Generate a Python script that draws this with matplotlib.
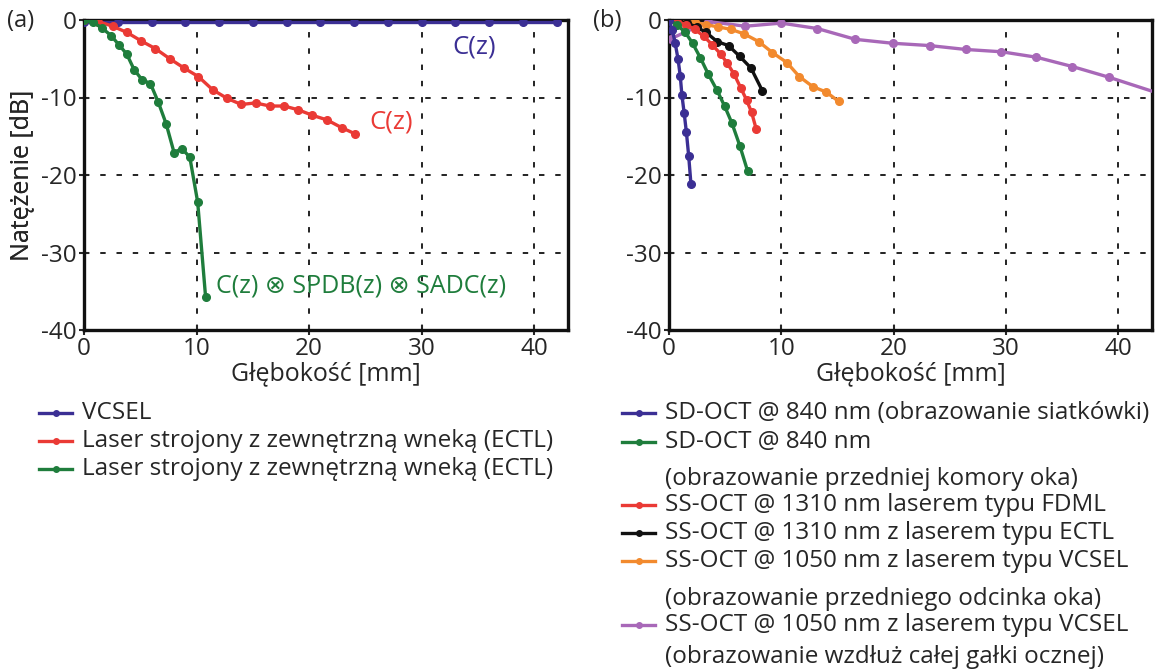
import matplotlib
matplotlib.use("Agg")
import matplotlib.pyplot as plt
from matplotlib.lines import Line2D

plt.rcParams['font.family'] = ['Open Sans', 'DejaVu Sans']

# ---------------- data: panel (a) ----------------
a_vcsel_x = [0, 3, 6, 9, 12, 15, 18, 21, 24, 27, 30, 33, 36, 39, 42]
a_vcsel_y = [-0.3, -0.3, -0.3, -0.3, -0.3, -0.3, -0.3, -0.3, -0.3, -0.3, -0.3, -0.3, -0.3, -0.3, -0.3]

a_ectl_x = [0, 1.27, 2.54, 3.81, 5.08, 6.35, 7.62, 8.89, 10.16, 11.43, 12.7, 13.97,
            15.24, 16.5, 17.8, 19.05, 20.3, 21.6, 22.9, 24.1]
a_ectl_y = [0, -0.2, -0.8, -1.6, -2.7, -3.7, -5.0, -6.2, -7.3, -9.0, -10.1, -10.9,
            -10.7, -11.1, -11.1, -11.6, -12.3, -12.9, -13.9, -14.7]

a_full_x = [0, 0.8, 1.57, 2.4, 3.1, 3.8, 4.45, 5.15, 5.9, 6.6, 7.3, 8.0, 8.7, 9.4, 10.1, 10.8]
a_full_y = [0, -0.3, -1.0, -2.0, -3.2, -4.4, -6.4, -7.7, -8.2, -10.6, -13.4, -17.1,
            -16.6, -17.7, -23.5, -35.7]

a_labels = ["VCSEL",
            "Laser strojony z zewnętrzną wneką (ECTL)",
            "Laser strojony z zewnętrzną wneką (ECTL)"]
a_notes = ["C(z)", "C(z)", "C(z) ⊗ SPDB(z) ⊗ SADC(z)"]

# ---------------- data: panel (b) ----------------
b_sd_ret_x = [0, 0.3, 0.55, 0.8, 1.0, 1.15, 1.35, 1.55, 1.75, 1.95]
b_sd_ret_y = [0, -1.3, -3.0, -5.0, -7.2, -9.7, -12.0, -14.5, -17.5, -21.1]

b_sd_ant_x = [0, 0.7, 1.45, 2.1, 2.8, 3.5, 4.25, 4.95, 5.6, 6.3, 7.0]
b_sd_ant_y = [0, -0.6, -1.6, -3.0, -4.9, -7.0, -9.0, -11.1, -13.3, -16.2, -19.5]

b_fdml_x = [0, 0.75, 1.5, 2.3, 3.1, 3.85, 4.6, 5.2, 5.8, 6.4, 6.9, 7.35, 7.75]
b_fdml_y = [0, -0.2, -0.6, -1.2, -2.1, -3.2, -4.4, -5.6, -7.0, -8.8, -10.3, -11.9, -14.0]

b_ectl_x = [0, 0.8, 1.6, 2.45, 3.3, 4.3, 5.3, 6.3, 7.3, 8.3]
b_ectl_y = [0, -0.1, -0.4, -0.9, -1.6, -2.8, -3.3, -4.7, -6.2, -9.1]

b_vcsel_ant_x = [0, 1.2, 2.3, 3.3, 4.4, 5.5, 6.7, 8.0, 9.2, 10.5, 11.6, 12.8, 14.0, 15.1]
b_vcsel_ant_y = [0, -0.1, -0.3, -0.6, -0.9, -1.2, -1.8, -2.8, -4.2, -5.5, -7.3, -8.6, -9.3, -10.5]

b_vcsel_full_x = [0.2, 3.5, 6.8, 10.0, 13.2, 16.6, 19.9, 23.2, 26.4, 29.6, 32.7, 35.9, 39.2, 45.8]
b_vcsel_full_y = [-2.4, -0.2, -0.8, -0.4, -1.1, -2.5, -3.0, -3.3, -3.8, -4.1, -4.8, -6.0, -7.4, -10.5]

b_labels = ["SD-OCT @ 840 nm (obrazowanie siatkówki)",
            "SD-OCT @ 840 nm",
            "(obrazowanie przedniej komory oka)",
            "SS-OCT @ 1310 nm laserem typu FDML",
            "SS-OCT @ 1310 nm z laserem typu ECTL",
            "SS-OCT @ 1050 nm z laserem typu VCSEL",
            "(obrazowanie przedniego odcinka oka)",
            "SS-OCT @ 1050 nm z laserem typu VCSEL",
            "(obrazowanie wzdłuż całej gałki ocznej)"]

x_ticks = [0, 10, 20, 30, 40]
y_ticks = [0, -10, -20, -30, -40]

# ---------------- colours ----------------
C_BLUE = "#3b2f94"
C_RED = "#ea3a35"
C_GREEN = "#1f7d3c"
C_BLACK = "#111111"
C_ORANGE = "#f28a2e"
C_PURPLE = "#a868b8"
C_TEXT = "#262626"

W, H = 1164, 672
AX_TOP, AX_BOT = 20, 330
fig = plt.figure(figsize=(W / 100, H / 100), dpi=100)


def make_ax(left_px, right_px):
    ax = fig.add_axes([left_px / W, 1 - AX_BOT / H, (right_px - left_px) / W, (AX_BOT - AX_TOP) / H])
    ax.set_xlim(0, 43)
    ax.set_ylim(-40, 0)
    ax.set_xticks(x_ticks)
    ax.set_yticks(y_ticks)
    ax.set_xticklabels([str(t) for t in x_ticks])
    ax.set_yticklabels([str(t) for t in y_ticks])
    ax.tick_params(direction='inout', length=7, width=1.5, labelsize=17.5, pad=1.5,
                   colors=C_TEXT)
    for s in ax.spines.values():
        s.set_linewidth(2.4)
        s.set_color('#111111')
    for t in x_ticks[1:]:
        ax.axvline(t, color='#111111', lw=1.3, ls=(0, (3, 6)), zorder=0)
    for t in y_ticks[1:-1]:
        ax.axhline(t, color='#111111', lw=1.3, ls=(0, (3, 6)), zorder=0)
    ax.set_xlabel("Głębokość [mm]", fontsize=18, color=C_TEXT)
    ax.set_ylabel("Natężenie [dB]", fontsize=18, color=C_TEXT)
    h = AX_BOT - AX_TOP
    ax.xaxis.set_label_coords(0.5, (AX_BOT - 374) / h)
    ax.xaxis.label.set_va('center')
    ax.yaxis.set_label_coords((22 - left_px) / (right_px - left_px), 0.5)
    ax.yaxis.label.set_va('center')
    return ax


ax1 = make_ax(84, 568)
ax2 = make_ax(669, 1152)

kw = dict(lw=2.4, marker='o', ms=5.5, clip_on=True)

# panel (a)
ax1.plot(a_vcsel_x, a_vcsel_y, color=C_BLUE, zorder=3, **kw)
ax1.plot(a_ectl_x, a_ectl_y, color=C_RED, zorder=4, **kw)
ax1.plot(a_full_x, a_full_y, color=C_GREEN, zorder=5, **kw)
ax1.text(34.7, -3.5, a_notes[0], color=C_BLUE, fontsize=18.5, ha='center', va='center')
ax1.text(27.3, -13.1, a_notes[1], color=C_RED, fontsize=18.5, ha='center', va='center')
ax1.text(11.7, -34.3, a_notes[2], color=C_GREEN, fontsize=18, ha='left', va='center')

# panel (b)
ax2.plot(b_vcsel_full_x, b_vcsel_full_y, color=C_PURPLE, zorder=3, **kw)
ax2.plot(b_vcsel_ant_x, b_vcsel_ant_y, color=C_ORANGE, zorder=4, **kw)
ax2.plot(b_ectl_x, b_ectl_y, color=C_BLACK, zorder=5, **kw)
ax2.plot(b_fdml_x, b_fdml_y, color=C_RED, zorder=6, **kw)
ax2.plot(b_sd_ant_x, b_sd_ant_y, color=C_GREEN, zorder=7, **kw)
ax2.plot(b_sd_ret_x, b_sd_ret_y, color=C_BLUE, zorder=8, **kw)

fig.text(7 / W, 1 - 21 / H, "(a)", fontsize=17, va='center', ha='left', color=C_TEXT)
fig.text(593 / W, 1 - 21 / H, "(b)", fontsize=17, va='center', ha='left', color=C_TEXT)


def draw_legend(x0, x1, xt, rows):
    for y, color, label in rows:
        yf = 1 - y / H
        if color is not None:
            xm = (x0 + x1) / 2
            fig.add_artist(Line2D([x0 / W, xm / W, x1 / W], [yf, yf, yf],
                                  transform=fig.transFigure, color=color, lw=2.4,
                                  marker='o', ms=4, markevery=[1]))
        fig.text(xt / W, yf, label, fontsize=17.5, color=C_TEXT, ha='left', va='center')


draw_legend(39, 72, 82, [(413, C_BLUE, a_labels[0]),
                         (441, C_RED, a_labels[1]),
                         (469, C_GREEN, a_labels[2])])

b_colors = [C_BLUE, C_GREEN, None, C_RED, C_BLACK, C_ORANGE, None, C_PURPLE, None]
b_rows_y = [413, 442, 479, 505, 533, 561, 599, 625, 657]
draw_legend(622, 655, 665, list(zip(b_rows_y, b_colors, b_labels)))

fig.savefig("out.png", dpi=100)
